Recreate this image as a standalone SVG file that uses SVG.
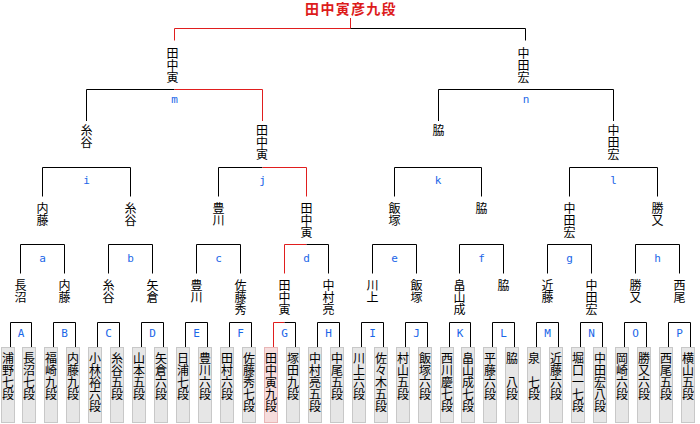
<svg xmlns="http://www.w3.org/2000/svg" width="700" height="424" viewBox="0 0 700 424">
<style>
.ln{fill:none;stroke:#000;stroke-width:1}
.rd{fill:none;stroke:#e01e1e;stroke-width:1}
.v{font-family:"Noto Sans CJK JP","Noto Sans CJK SC",sans-serif;font-size:12px;writing-mode:vertical-rl;text-orientation:upright;fill:#000}
.lb{font-family:"DejaVu Sans Mono",monospace;font-size:11px;fill:#1a66e8;text-anchor:middle}
.bx{fill:#e6e6e6;stroke:#c8c8c8;stroke-width:1}
.bxw{fill:#f6dcdc;stroke:#e8b6b6;stroke-width:1}
.ttl{font-family:"Noto Sans CJK JP","Noto Sans CJK SC",sans-serif;font-size:14px;font-weight:bold;fill:#dd1c1c;text-anchor:middle;letter-spacing:1.3px}
</style>
<rect width="700" height="424" fill="#fff"/>
<g id="connectors">
<path class="rd" d="M350.5,18V28.5H174.5V40.5"/>
<path class="ln" d="M350.5,28.5H525.5V40.5"/>
<path class="ln" d="M86.5,121V89.5H174.5"/>
<path class="rd" d="M174.5,89.5H262.5V121"/>
<path class="ln" d="M438.5,121V89.5H613.5V121"/>
<path class="ln" d="M42.5,196.5V167.5H130.5V196.5"/>
<path class="ln" d="M218.5,196.5V167.5H262.5"/>
<path class="rd" d="M262.5,167.5H306.5V196.5"/>
<path class="ln" d="M394.5,196.5V167.5H481.5V196.5"/>
<path class="ln" d="M569.5,196.5V167.5H657.5V196.5"/>
<path class="ln" d="M20.5,273.5V244.5H64.5V273.5"/>
<path class="ln" d="M108.5,273.5V244.5H152.5V273.5"/>
<path class="ln" d="M196.5,273.5V244.5H240.5V273.5"/>
<path class="rd" d="M284.5,273.5V244.5H306.5"/>
<path class="ln" d="M306.5,244.5H328.5V273.5"/>
<path class="ln" d="M372.5,273.5V244.5H416.5V273.5"/>
<path class="ln" d="M459.5,273.5V244.5H503.5V273.5"/>
<path class="ln" d="M547.5,273.5V244.5H591.5V273.5"/>
<path class="ln" d="M635.5,273.5V244.5H679.5V273.5"/>
<path class="ln" d="M10.5,347V322.5H31.5V347"/>
<path class="ln" d="M53.5,347V322.5H75.5V347"/>
<path class="ln" d="M97.5,347V322.5H119.5V347"/>
<path class="ln" d="M141.5,347V322.5H163.5V347"/>
<path class="ln" d="M185.5,347V322.5H207.5V347"/>
<path class="ln" d="M229.5,347V322.5H251.5V347"/>
<path class="rd" d="M273.5,347V322.5H284.5"/>
<path class="ln" d="M284.5,322.5H295.5V347"/>
<path class="ln" d="M317.5,347V322.5H339.5V347"/>
<path class="ln" d="M361.5,347V322.5H383.5V347"/>
<path class="ln" d="M405.5,347V322.5H427.5V347"/>
<path class="ln" d="M449.5,347V322.5H470.5V347"/>
<path class="ln" d="M492.5,347V322.5H514.5V347"/>
<path class="ln" d="M536.5,347V322.5H558.5V347"/>
<path class="ln" d="M580.5,347V322.5H602.5V347"/>
<path class="ln" d="M624.5,347V322.5H646.5V347"/>
<path class="ln" d="M668.5,347V322.5H690.5V347"/>
</g>
<g id="match-labels">
<text class="lb" x="174.5" y="102.7">m</text>
<text class="lb" x="526" y="102.7">n</text>
<text class="lb" x="86.5" y="184">i</text>
<text class="lb" x="262.5" y="184">j</text>
<text class="lb" x="438" y="184">k</text>
<text class="lb" x="613.5" y="184">l</text>
<text class="lb" x="42.5" y="261.7">a</text>
<text class="lb" x="130.5" y="261.7">b</text>
<text class="lb" x="218.5" y="261.7">c</text>
<text class="lb" x="306.5" y="261.7">d</text>
<text class="lb" x="394.5" y="261.7">e</text>
<text class="lb" x="481.5" y="261.7">f</text>
<text class="lb" x="569.5" y="261.7">g</text>
<text class="lb" x="657.5" y="261.7">h</text>
<text class="lb" x="21" y="336.5">A</text>
<text class="lb" x="64.5" y="336.5">B</text>
<text class="lb" x="108.5" y="336.5">C</text>
<text class="lb" x="152.5" y="336.5">D</text>
<text class="lb" x="196.5" y="336.5">E</text>
<text class="lb" x="240.5" y="336.5">F</text>
<text class="lb" x="284.5" y="336.5">G</text>
<text class="lb" x="328.5" y="336.5">H</text>
<text class="lb" x="372.5" y="336.5">I</text>
<text class="lb" x="416.5" y="336.5">J</text>
<text class="lb" x="460" y="336.5">K</text>
<text class="lb" x="503.5" y="336.5">L</text>
<text class="lb" x="547.5" y="336.5">M</text>
<text class="lb" x="591.5" y="336.5">N</text>
<text class="lb" x="635.5" y="336.5">O</text>
<text class="lb" x="679.5" y="336.5">P</text>
</g>
<g id="champion"><text class="ttl" x="351" y="14">田中寅彦九段</text></g>
<g id="r4-1"><text class="v" x="172.5" y="47">田中寅</text></g>
<g id="r4-2"><text class="v" x="523.5" y="47">中田宏</text></g>
<g id="r3-1"><text class="v" x="86.5" y="124.4">糸谷</text></g>
<g id="r3-2"><text class="v" x="262" y="124.4">田中寅</text></g>
<g id="r3-3"><text class="v" x="438.5" y="124.4">脇</text></g>
<g id="r3-4"><text class="v" x="613.5" y="124.4">中田宏</text></g>
<g id="r2-1"><text class="v" x="42.5" y="202">内藤</text></g>
<g id="r2-2"><text class="v" x="130.5" y="202">糸谷</text></g>
<g id="r2-3"><text class="v" x="218.5" y="202">豊川</text></g>
<g id="r2-4"><text class="v" x="306.5" y="202">田中寅</text></g>
<g id="r2-5"><text class="v" x="394.5" y="202">飯塚</text></g>
<g id="r2-6"><text class="v" x="481.5" y="202">脇</text></g>
<g id="r2-7"><text class="v" x="569.5" y="202">中田宏</text></g>
<g id="r2-8"><text class="v" x="657.5" y="202">勝又</text></g>
<g id="r1-1"><text class="v" x="20.5" y="279.4">長沼</text></g>
<g id="r1-2"><text class="v" x="64.5" y="279.4">内藤</text></g>
<g id="r1-3"><text class="v" x="108.5" y="279.4">糸谷</text></g>
<g id="r1-4"><text class="v" x="152.5" y="279.4">矢倉</text></g>
<g id="r1-5"><text class="v" x="196.5" y="279.4">豊川</text></g>
<g id="r1-6"><text class="v" x="240.5" y="279.4">佐藤秀</text></g>
<g id="r1-7"><text class="v" x="284.5" y="279.4">田中寅</text></g>
<g id="r1-8"><text class="v" x="328.5" y="279.4">中村亮</text></g>
<g id="r1-9"><text class="v" x="372.5" y="279.4">川上</text></g>
<g id="r1-10"><text class="v" x="416.5" y="279.4">飯塚</text></g>
<g id="r1-11"><text class="v" x="459.5" y="279.4">畠山成</text></g>
<g id="r1-12"><text class="v" x="503.5" y="279.4">脇</text></g>
<g id="r1-13"><text class="v" x="547.5" y="279.4">近藤</text></g>
<g id="r1-14"><text class="v" x="591.5" y="279.4">中田宏</text></g>
<g id="r1-15"><text class="v" x="635.5" y="279.4">勝又</text></g>
<g id="r1-16"><text class="v" x="679.5" y="279.4">西尾</text></g>
<g id="p1"><rect class="bx" x="1.5" y="347.5" width="13" height="75"/><text class="v" x="8" y="352.7">浦野七段</text></g>
<g id="p2"><rect class="bx" x="22.5" y="347.5" width="13" height="75"/><text class="v" x="29" y="352.7">長沼七段</text></g>
<g id="p3"><rect class="bx" x="44.5" y="347.5" width="13" height="75"/><text class="v" x="51" y="352.7">福崎九段</text></g>
<g id="p4"><rect class="bx" x="66.5" y="347.5" width="13" height="75"/><text class="v" x="73" y="352.7">内藤九段</text></g>
<g id="p5"><rect class="bx" x="88.5" y="347.5" width="13" height="75"/><text class="v" x="95" y="352.7">小林裕六段</text></g>
<g id="p6"><rect class="bx" x="110.5" y="347.5" width="13" height="75"/><text class="v" x="117" y="352.7">糸谷五段</text></g>
<g id="p7"><rect class="bx" x="132.5" y="347.5" width="13" height="75"/><text class="v" x="139" y="352.7">山本五段</text></g>
<g id="p8"><rect class="bx" x="154.5" y="347.5" width="13" height="75"/><text class="v" x="161" y="352.7">矢倉六段</text></g>
<g id="p9"><rect class="bx" x="176.5" y="347.5" width="13" height="75"/><text class="v" x="183" y="352.7">日浦七段</text></g>
<g id="p10"><rect class="bx" x="198.5" y="347.5" width="13" height="75"/><text class="v" x="205" y="352.7">豊川六段</text></g>
<g id="p11"><rect class="bx" x="220.5" y="347.5" width="13" height="75"/><text class="v" x="227" y="352.7">田村六段</text></g>
<g id="p12"><rect class="bx" x="242.5" y="347.5" width="13" height="75"/><text class="v" x="249" y="352.7">佐藤秀七段</text></g>
<g id="p13"><rect class="bxw" x="264.5" y="347.5" width="13" height="75"/><text class="v" x="271" y="352.7">田中寅九段</text></g>
<g id="p14"><rect class="bx" x="286.5" y="347.5" width="13" height="75"/><text class="v" x="293" y="352.7">塚田九段</text></g>
<g id="p15"><rect class="bx" x="308.5" y="347.5" width="13" height="75"/><text class="v" x="315" y="352.7">中村亮五段</text></g>
<g id="p16"><rect class="bx" x="330.5" y="347.5" width="13" height="75"/><text class="v" x="337" y="352.7">中尾五段</text></g>
<g id="p17"><rect class="bx" x="352.5" y="347.5" width="13" height="75"/><text class="v" x="359" y="352.7">川上六段</text></g>
<g id="p18"><rect class="bx" x="374.5" y="347.5" width="13" height="75"/><text class="v" x="381" y="352.7">佐々木五段</text></g>
<g id="p19"><rect class="bx" x="396.5" y="347.5" width="13" height="75"/><text class="v" x="403" y="352.7">村山五段</text></g>
<g id="p20"><rect class="bx" x="418.5" y="347.5" width="13" height="75"/><text class="v" x="425" y="352.7">飯塚六段</text></g>
<g id="p21"><rect class="bx" x="440.5" y="347.5" width="13" height="75"/><text class="v" x="447" y="352.7">西川慶七段</text></g>
<g id="p22"><rect class="bx" x="461.5" y="347.5" width="13" height="75"/><text class="v" x="468" y="352.7">畠山成七段</text></g>
<g id="p23"><rect class="bx" x="483.5" y="347.5" width="13" height="75"/><text class="v" x="490" y="352.7">平藤六段</text></g>
<g id="p24"><rect class="bx" x="505.5" y="347.5" width="13" height="75"/><text class="v" x="512" y="352.7">脇　八段</text></g>
<g id="p25"><rect class="bx" x="527.5" y="347.5" width="13" height="75"/><text class="v" x="534" y="352.7">泉　七段</text></g>
<g id="p26"><rect class="bx" x="549.5" y="347.5" width="13" height="75"/><text class="v" x="556" y="352.7">近藤六段</text></g>
<g id="p27"><rect class="bx" x="571.5" y="347.5" width="13" height="75"/><text class="v" x="578" y="352.7">堀口一七段</text></g>
<g id="p28"><rect class="bx" x="593.5" y="347.5" width="13" height="75"/><text class="v" x="600" y="352.7">中田宏八段</text></g>
<g id="p29"><rect class="bx" x="615.5" y="347.5" width="13" height="75"/><text class="v" x="622" y="352.7">岡崎六段</text></g>
<g id="p30"><rect class="bx" x="637.5" y="347.5" width="13" height="75"/><text class="v" x="644" y="352.7">勝又六段</text></g>
<g id="p31"><rect class="bx" x="659.5" y="347.5" width="13" height="75"/><text class="v" x="666" y="352.7">西尾五段</text></g>
<g id="p32"><rect class="bx" x="681.5" y="347.5" width="13" height="75"/><text class="v" x="688" y="352.7">横山五段</text></g>
</svg>
